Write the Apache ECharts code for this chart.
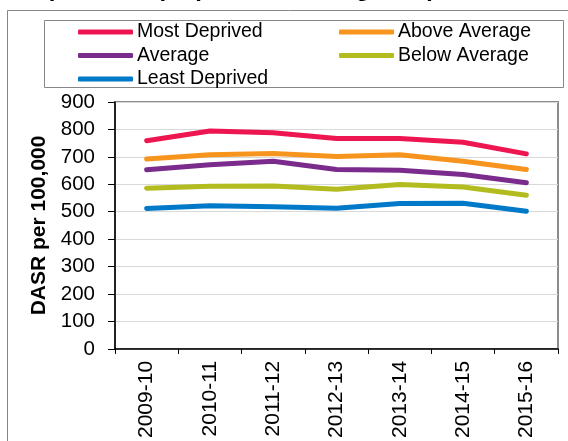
<!DOCTYPE html>
<html>
<head>
<meta charset="utf-8">
<script src="https://cdn.jsdelivr.net/npm/echarts@6/dist/echarts.min.js"></script>
<style>
  html, body { margin: 0; padding: 0; background: #fff; }
  #main { width: 568px; height: 441px; }
</style>
</head>
<body>
<div id="main"></div>
<script>
// data
const years = ['2009-10', '2010-11', '2011-12', '2012-13', '2013-14', '2014-15', '2015-16']
const mostDeprived = [759, 794, 788, 767, 767, 753, 711]
const aboveAverage = [692, 708, 712, 701, 708, 684, 654]
const average = [653, 671, 684, 654, 651, 636, 606]
const belowAverage = [586, 593, 594, 582, 599, 590, 560]
const leastDeprived = [512, 522, 518, 513, 530, 531, 502]

const FONT = 'Liberation Sans, Arial, sans-serif'

const mkLine = (name, data, color) => ({
  name,
  type: 'line',
  data,
  symbol: 'none',
  lineStyle: { width: 5, color, cap: 'round', join: 'round' },
  itemStyle: { color }
})

const chart = echarts.init(document.getElementById('main'))

const legendBase = {
  orient: 'vertical',
  top: 22,
  itemWidth: 55,
  itemHeight: 5,
  itemGap: 3.5,
  icon: 'roundRect',
  padding: 0,
  textStyle: { fontFamily: FONT, fontSize: 19.5, color: '#000', padding: [0, 0, 0, -1] }
}

chart.setOption({
  animation: false,
  backgroundColor: '#fff',
  textStyle: { fontFamily: FONT },
  graphic: [
    {
      // outer chart border, cut by the picture edge
      type: 'rect',
      shape: { x: 7.5, y: 10.5, width: 700, height: 600 },
      style: { fill: 'none', stroke: '#868686', lineWidth: 1 },
      z: -1
    },
    {
      // legend box
      type: 'rect',
      shape: { x: 44.5, y: 20.5, width: 519, height: 67 },
      style: { fill: 'none', stroke: '#868686', lineWidth: 1 },
      z: -1
    },
    {
      // title, mostly above the picture edge
      type: 'text',
      left: 18,
      top: -23,
      style: {
        text: 'Deprivation (Deprivation Categories)',
        font: 'bold 24px ' + FONT,
        fill: '#000'
      }
    }
  ],
  legend: [
    Object.assign({}, legendBase, {
      left: 78,
      data: ['Most Deprived', 'Average', 'Least Deprived']
    }),
    Object.assign({}, legendBase, {
      left: 339,
      data: ['Above Average', 'Below Average']
    })
  ],
  grid: {
    left: 115,
    right: 10,
    top: 102,
    bottom: 91,
    show: true,
    borderColor: '#8c8c8c',
    borderWidth: 2
  },
  xAxis: {
    type: 'category',
    data: years,
    boundaryGap: true,
    axisLine: { lineStyle: { color: '#000', width: 1.5 } },
    axisTick: { show: true, length: 5, lineStyle: { color: '#000' } },
    axisLabel: {
      rotate: 90,
      margin: 12,
      fontSize: 21,
      color: '#000',
      fontFamily: FONT
    }
  },
  yAxis: {
    type: 'value',
    min: 0,
    max: 900,
    interval: 100,
    name: 'DASR per 100,000',
    nameLocation: 'middle',
    nameGap: 59,
    nameTextStyle: { fontSize: 21, fontWeight: 'bold', color: '#000', fontFamily: FONT },
    axisLine: { show: true, lineStyle: { color: '#000', width: 1.5 } },
    axisTick: { show: true, length: 7, lineStyle: { color: '#000' } },
    axisLabel: { margin: 20, fontSize: 20.5, color: '#000', fontFamily: FONT },
    splitLine: { lineStyle: { color: '#d9d9d9', width: 1 } }
  },
  series: [
    mkLine('Most Deprived', mostDeprived, '#ED1651'),
    mkLine('Above Average', aboveAverage, '#F7941D'),
    mkLine('Average', average, '#7B2B8C'),
    mkLine('Below Average', belowAverage, '#B3BC1E'),
    mkLine('Least Deprived', leastDeprived, '#0079C8')
  ]
})
</script>
</body>
</html>
